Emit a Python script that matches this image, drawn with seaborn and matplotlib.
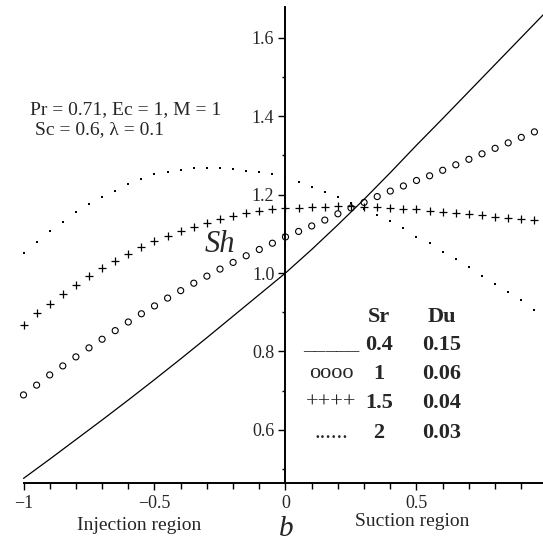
import numpy as np
import matplotlib
matplotlib.use("Agg")
import matplotlib.pyplot as plt
import seaborn as sns

# ---- data -------------------------------------------------------------
b_pts = [-1.0, -0.95, -0.9, -0.85, -0.8, -0.75, -0.7, -0.65, -0.6, -0.55,
         -0.5, -0.45, -0.4, -0.35, -0.3, -0.25, -0.2, -0.15, -0.1, -0.05,
         0.0, 0.05, 0.1, 0.15, 0.2, 0.25, 0.3, 0.35, 0.4, 0.45,
         0.5, 0.55, 0.6, 0.65, 0.7, 0.75, 0.8, 0.85, 0.9, 0.95]
b_line = [-1.0, -0.9, -0.8, -0.7, -0.6, -0.5, -0.4, -0.3, -0.2, -0.1,
          0.0, 0.1, 0.2, 0.3, 0.4, 0.5, 0.6, 0.7, 0.8, 0.9, 1.0]

sh_sr04 = [0.476, 0.525, 0.575, 0.625, 0.676, 0.728, 0.781, 0.835, 0.890, 0.945,
           1.000, 1.060, 1.123, 1.188, 1.256, 1.326, 1.394, 1.463, 1.532, 1.601, 1.670]
sh_sr1 = [0.689, 0.714, 0.740, 0.763, 0.786, 0.809, 0.831, 0.853, 0.875, 0.896,
          0.916, 0.936, 0.955, 0.974, 0.992, 1.010, 1.027, 1.044, 1.060, 1.076,
          1.092, 1.106, 1.120, 1.135, 1.151, 1.166, 1.180, 1.195, 1.209, 1.222,
          1.236, 1.248, 1.262, 1.276, 1.290, 1.304, 1.318, 1.332, 1.346, 1.360]
sh_sr15 = [0.867, 0.898, 0.921, 0.946, 0.969, 0.992, 1.013, 1.031, 1.049, 1.066,
           1.081, 1.094, 1.106, 1.118, 1.128, 1.137, 1.145, 1.152, 1.157, 1.162,
           1.165, 1.167, 1.168, 1.169, 1.170, 1.170, 1.169, 1.168, 1.166, 1.164,
           1.162, 1.159, 1.156, 1.153, 1.150, 1.147, 1.144, 1.141, 1.138, 1.134]
sh_sr2 = [1.051, 1.079, 1.107, 1.130, 1.156, 1.176, 1.195, 1.210, 1.226, 1.239,
          1.253, 1.257, 1.263, 1.267, 1.267, 1.267, 1.265, 1.261, 1.257, 1.252,
          1.243, 1.231, 1.220, 1.207, 1.193, 1.178, 1.164, 1.147, 1.132, 1.114,
          1.093, 1.077, 1.054, 1.036, 1.015, 0.992, 0.972, 0.952, 0.931, 0.906]

x_major = [-1.0, -0.5, 0.0, 0.5]
x_major_labels = ["\u22121", "\u22120.5", "0", "0.5"]
x_minor = [-0.9, -0.8, -0.7, -0.6, -0.4, -0.3, -0.2, -0.1,
           0.1, 0.2, 0.3, 0.4, 0.6, 0.7, 0.8, 0.9]
y_major = [0.6, 0.8, 1.0, 1.2, 1.4, 1.6]
y_major_labels = ["0.6", "0.8", "1.0", "1.2", "1.4", "1.6"]
y_minor = [0.5, 0.7, 0.9, 1.1, 1.3, 1.5]

legend_rows = [("", "Sr", "Du"), ("_____", "0.4", "0.15"), ("oooo", "1", "0.06"),
               ("++++", "1.5", "0.04"), ("......", "2", "0.03")]

# ---- style ------------------------------------------------------------
sns.set_theme(style="white")
plt.rcParams['font.family'] = ['Liberation Serif', 'DejaVu Serif']

W, H = 543, 544
fig = plt.figure(figsize=(W / 100, H / 100), dpi=100)
ax = fig.add_axes([0, 0, 1, 1])
ax.set_facecolor('white')

X0PX, XSC = 285.5, 262.0     # pixel of b=0, pixels per unit
Y1PX, YSC = 273.0, 392.0     # pixel of Sh=1, pixels per unit
ax.set_xlim(-X0PX / XSC, (W - X0PX) / XSC)
ax.set_ylim(1 - (H - Y1PX) / YSC, 1 + Y1PX / YSC)
x_axis_y = 1 - (483 - Y1PX) / YSC
y_axis_top = 1 + (Y1PX - 7) / YSC

# ---- marks ------------------------------------------------------------
sns.lineplot(x=b_line, y=sh_sr04, color='black', linewidth=0.9, ax=ax,
             sort=False, estimator=None)
sns.scatterplot(x=b_pts, y=sh_sr1, marker='o', s=19, facecolor='none',
                edgecolor='black', linewidth=0.8, ax=ax)
sns.scatterplot(x=b_pts, y=sh_sr15, marker='+', s=30, color='black',
                linewidth=0.9, ax=ax)
sns.scatterplot(x=b_pts, y=sh_sr2, marker='s', s=4.5, color='black',
                linewidth=0, ax=ax)

# ---- axes -------------------------------------------------------------
for s in ['top', 'right']:
    ax.spines[s].set_visible(False)
ax.spines['left'].set_position(('data', 0))
ax.spines['bottom'].set_position(('data', x_axis_y))
ax.spines['left'].set_bounds(x_axis_y, y_axis_top)
ax.spines['bottom'].set_bounds(-1.0, ax.get_xlim()[1])
for s in ['left', 'bottom']:
    ax.spines[s].set_color('black')
    ax.spines[s].set_linewidth(1.4)
    ax.spines[s].set_zorder(1)

ax.set_xticks(x_major)
ax.set_xticklabels(x_major_labels)
ax.set_xticks(x_minor, minor=True)
ax.set_yticks(y_major)
ax.set_yticklabels(y_major_labels)
ax.set_yticks(y_minor, minor=True)
ax.tick_params(axis='x', which='major', direction='out', length=5, width=1,
               color='black', labelsize=13, pad=3.5, bottom=True)
ax.tick_params(axis='x', which='minor', direction='out', length=4, width=1,
               color='black', bottom=True)
ax.tick_params(axis='y', which='major', direction='out', length=5, width=1,
               color='black', labelsize=13, pad=3, left=True)
ax.tick_params(axis='y', which='minor', direction='out', length=2.5, width=1,
               color='black', left=True)
ax.grid(False)


def px(x, y):
    return x / W, 1 - y / H


# ---- text -------------------------------------------------------------
fig.text(*px(30, 110), "Pr = 0.71, Ec = 1, M = 1", fontsize=14, ha='left', va='center')
fig.text(*px(35, 130), "Sc = 0.6, \u03bb = 0.1", fontsize=14, ha='left', va='center')
fig.text(*px(220, 244), "Sh", fontsize=22, style='italic', ha='center', va='center')
fig.text(*px(286, 529), "b", fontsize=21, style='italic', ha='center', va='center')
fig.text(*px(139, 525), "Injection region", fontsize=14, ha='center', va='center')
fig.text(*px(412, 522), "Suction region", fontsize=14, ha='center', va='center')

row_y = [317, 345, 374, 403, 433]
for (sample, sr, du), yy in zip(legend_rows, row_y):
    if sample:
        fig.text(*px(331, yy), sample, fontsize=16, ha='center', va='center')
    fig.text(*px(379, yy), sr, fontsize=16, fontweight='bold', ha='center', va='center')
    fig.text(*px(442, yy), du, fontsize=16, fontweight='bold', ha='center', va='center')

fig.savefig("out.png", dpi=100, facecolor='white')
